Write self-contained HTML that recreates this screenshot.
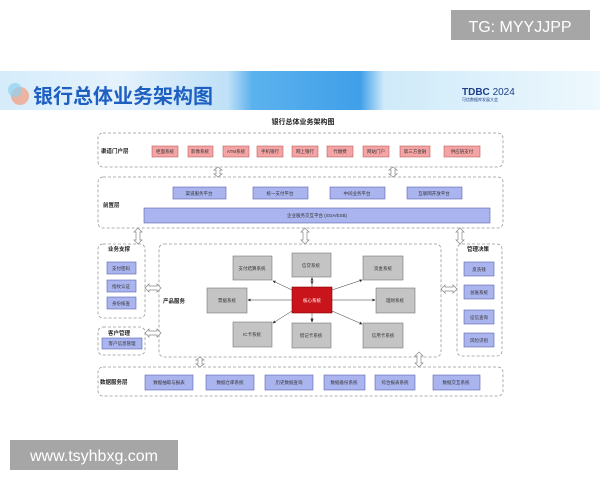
<!DOCTYPE html>
<html><head><meta charset="utf-8"><style>
body{margin:0;width:600px;height:480px;background:#fff;overflow:hidden;font-family:"Liberation Sans","Noto Sans CJK SC",sans-serif}
</style></head><body>
<svg width="600" height="480" viewBox="0 0 600 480" xmlns="http://www.w3.org/2000/svg" font-family="Liberation Sans, Noto Sans CJK SC, sans-serif">
<defs>
<linearGradient id="hg" x1="0" x2="1" y1="0" y2="0">
<stop offset="0" stop-color="#d6ecfb"/><stop offset="0.2" stop-color="#e4f2fc"/><stop offset="0.38" stop-color="#bfe0f7"/><stop offset="0.42" stop-color="#5cb2ee"/><stop offset="0.6" stop-color="#3f9fe8"/><stop offset="0.64" stop-color="#cfeafa"/><stop offset="1" stop-color="#eef8fd"/>
</linearGradient>
<marker id="ah" markerWidth="6" markerHeight="6" refX="5" refY="3" orient="auto"><path d="M0,0 L6,3 L0,6z" fill="#333"/></marker>
</defs>
<rect x="0" y="71" width="600" height="39" fill="url(#hg)"/>
<circle cx="20" cy="96" r="9" fill="#f0a58c" opacity="0.8"/>
<circle cx="15" cy="90" r="7" fill="#8fd0f0" opacity="0.7"/>
<text x="33" y="103" font-size="20" font-weight="bold" fill="#1e5fc2">银行总体业务架构图</text>
<text x="462" y="95" font-size="10" font-weight="bold" fill="#1d3f8a">TDBC <tspan font-weight="normal">2024</tspan></text>
<text x="462" y="101" font-size="4" fill="#1d3f8a">可信数据库发展大会</text>
<rect x="0" y="110" width="600" height="300" fill="#fff"/>
<text x="303" y="124" font-size="7" font-weight="bold" text-anchor="middle" fill="#222">银行总体业务架构图</text>

<g fill="none" stroke="#999" stroke-dasharray="3,2" stroke-width="0.8">
<rect x="98" y="133" width="405" height="34" rx="5"/>
<rect x="98" y="177" width="405" height="51" rx="5"/>
<rect x="98" y="244" width="47" height="74" rx="5"/>
<rect x="98" y="327" width="47" height="28" rx="5"/>
<rect x="159" y="244" width="282" height="113" rx="5"/>
<rect x="457" y="244" width="45" height="112" rx="5"/>
<rect x="98" y="367" width="405" height="29" rx="5"/>
</g>

<g font-size="5.5" fill="#222" font-weight="bold">
<text x="101" y="153">渠道门户层</text>
<text x="103" y="207">前置层</text>
<text x="108" y="251">业务支撑</text>
<text x="108" y="335">客户管理</text>
<text x="163" y="303">产品服务</text>
<text x="467" y="251">管理决策</text>
<text x="100" y="384">数据服务层</text>
</g>

<g font-size="4.5" text-anchor="middle" fill="#333">
<g fill="#f4a4a4" stroke="#c06060" stroke-width="0.6">
<rect x="152" y="146" width="26" height="11"/><rect x="188" y="146" width="25" height="11"/><rect x="223" y="146" width="26" height="11"/><rect x="257" y="146" width="26" height="11"/><rect x="292" y="146" width="26" height="11"/><rect x="327" y="146" width="26" height="11"/><rect x="363" y="146" width="26" height="11"/><rect x="400" y="146" width="30" height="11"/><rect x="444" y="146" width="36" height="11"/>
</g>
<text x="165" y="153">柜面系统</text><text x="200" y="153">影像系统</text><text x="236" y="153">ATM系统</text><text x="270" y="153">手机银行</text><text x="305" y="153">网上银行</text><text x="340" y="153">代缴费</text><text x="376" y="153">网站门户</text><text x="415" y="153">第三方金融</text><text x="462" y="153">供应链支付</text>

<g fill="#aab4ee" stroke="#5a64b0" stroke-width="0.6">
<rect x="173" y="187" width="53" height="12"/><rect x="253" y="187" width="55" height="12"/><rect x="330" y="187" width="55" height="12"/><rect x="407" y="187" width="55" height="12"/>
<rect x="144" y="208" width="346" height="15"/>
<rect x="107" y="262" width="29" height="12"/><rect x="107" y="280" width="29" height="12"/><rect x="107" y="297" width="29" height="12"/>
<rect x="102" y="338" width="40" height="11"/>
<rect x="464" y="262" width="30" height="14"/><rect x="464" y="285" width="30" height="14"/><rect x="464" y="310" width="30" height="14"/><rect x="464" y="333" width="30" height="14"/>
<rect x="145" y="375" width="48" height="15"/><rect x="206" y="375" width="48" height="15"/><rect x="265" y="375" width="48" height="15"/><rect x="324" y="375" width="41" height="15"/><rect x="375" y="375" width="40" height="15"/><rect x="433" y="375" width="47" height="15"/>
</g>
<text x="199" y="195">渠道服务平台</text><text x="280" y="195">统一支付平台</text><text x="357" y="195">中间业务平台</text><text x="434" y="195">互联网开放平台</text>
<text x="317" y="217">企业服务交互平台 (SOA/ESB)</text>
<text x="121" y="270">支付密码</text><text x="121" y="288">指纹认证</text><text x="121" y="305">身份核查</text>
<text x="122" y="345">客户信息管理</text>
<text x="479" y="271">反洗钱</text><text x="479" y="294">总账系统</text><text x="479" y="319">征信查询</text><text x="479" y="342">风险识别</text>
<text x="169" y="384">数据抽取与报表</text><text x="230" y="384">数据仓库系统</text><text x="289" y="384">历史数据查询</text><text x="344" y="384">数据备份系统</text><text x="395" y="384">综合报表系统</text><text x="456" y="384">数据交互系统</text>

<g fill="#c4c4c4" stroke="#777" stroke-width="0.6">
<rect x="233" y="256" width="39" height="24"/><rect x="292" y="253" width="39" height="24"/><rect x="363" y="256" width="40" height="24"/>
<rect x="207" y="288" width="40" height="25"/><rect x="376" y="288" width="39" height="25"/>
<rect x="233" y="322" width="39" height="25"/><rect x="292" y="323" width="39" height="25"/><rect x="363" y="323" width="40" height="25"/>
</g>
<rect x="292" y="287" width="40" height="26" fill="#c8141a" stroke="#800" stroke-width="0.6"/>
<text x="252" y="270">支付结算系统</text><text x="311" y="267">信贷系统</text><text x="383" y="270">资金系统</text>
<text x="227" y="302">票据系统</text><text x="312" y="302" fill="#fff">核心系统</text><text x="395" y="302">理财系统</text>
<text x="252" y="336">IC卡系统</text><text x="311" y="337">借记卡系统</text><text x="383" y="337">信用卡系统</text>
</g>

<g stroke="#333" stroke-width="0.5" marker-end="url(#ah)">
<line x1="292" y1="290" x2="273" y2="281"/>
<line x1="312" y1="287" x2="312" y2="278"/>
<line x1="332" y1="290" x2="362" y2="280"/>
<line x1="292" y1="300" x2="248" y2="300"/>
<line x1="332" y1="300" x2="375" y2="300"/>
<line x1="292" y1="311" x2="273" y2="323"/>
<line x1="312" y1="313" x2="312" y2="322"/>
<line x1="332" y1="311" x2="362" y2="324"/>
</g>
<g stroke="#333" stroke-width="0.5" marker-end="url(#ah)">
<line x1="312" y1="285" x2="312" y2="278" transform="rotate(180 312 281)"/>
<line x1="312" y1="315" x2="312" y2="313" transform="rotate(180 312 317)"/>
</g>

<g fill="#fff" stroke="#888" stroke-width="0.7">
<path d="M218,167 l-4,3 h2 v4 h-2 l4,3 l4,-3 h-2 v-4 h2 z"/>
<path d="M393,167 l-4,3 h2 v4 h-2 l4,3 l4,-3 h-2 v-4 h2 z"/>
<path d="M138,228 l-4,4 h2 v8 h-2 l4,4 l4,-4 h-2 v-8 h2 z"/>
<path d="M305,228 l-4,4 h2 v8 h-2 l4,4 l4,-4 h-2 v-8 h2 z"/>
<path d="M460,228 l-4,4 h2 v8 h-2 l4,4 l4,-4 h-2 v-8 h2 z"/>
<path d="M200,357 l-4,3 h2 v4 h-2 l4,3 l4,-3 h-2 v-4 h2 z"/>
<path d="M419,352 l-4,4 h2 v7 h-2 l4,4 l4,-4 h-2 v-7 h2 z"/>
<path d="M145,288 l4,-4 v2 h8 v-2 l4,4 l-4,4 v-2 h-8 v2 z"/>
<path d="M145,333 l4,-4 v2 h8 v-2 l4,4 l-4,4 v-2 h-8 v2 z"/>
<path d="M441,289 l4,-4 v2 h8 v-2 l4,4 l-4,4 v-2 h-8 v2 z"/>
</g>

<rect x="451" y="10" width="139" height="30" fill="#a6a6a6"/>
<text x="520" y="32" font-size="16" fill="#fff" text-anchor="middle">TG: MYYJJPP</text>
<rect x="10" y="440" width="168" height="30" fill="#a6a6a6"/>
<text x="94" y="461" font-size="16" fill="#fff" text-anchor="middle">www.tsyhbxg.com</text>
</svg>
</body></html>
